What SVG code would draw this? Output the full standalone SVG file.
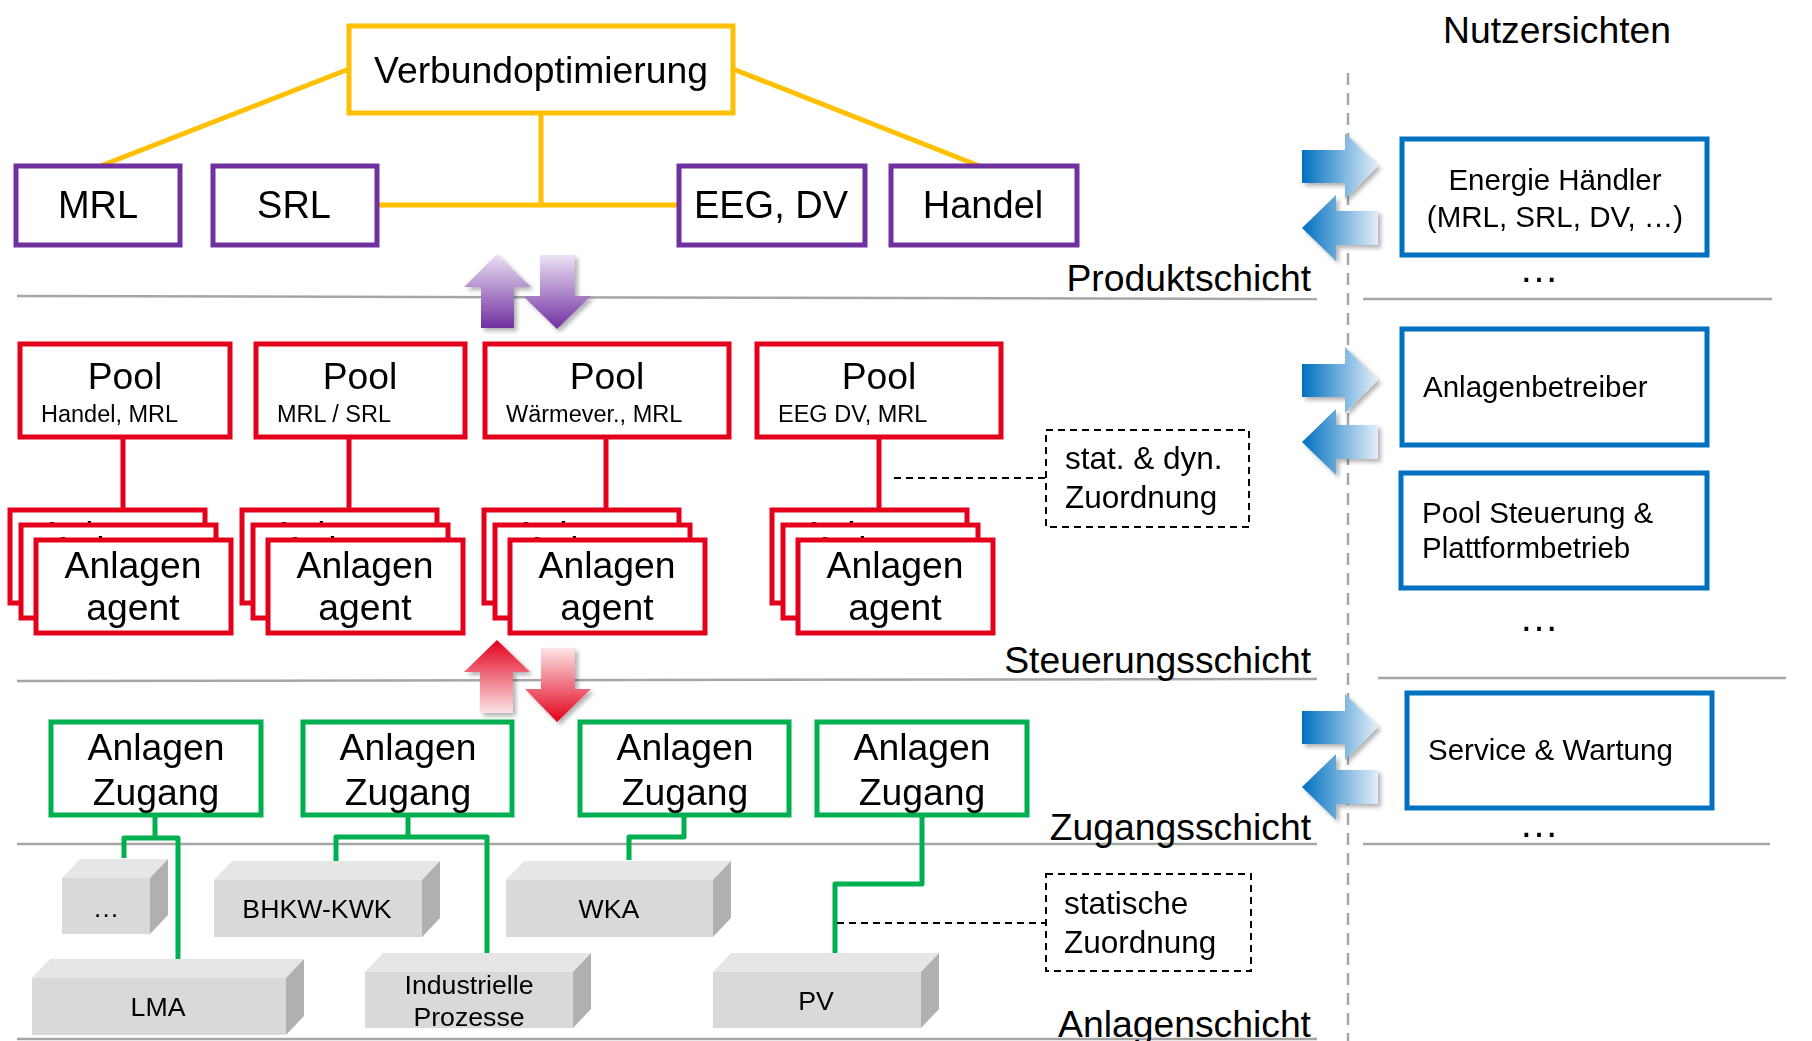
<svg xmlns="http://www.w3.org/2000/svg" width="1812" height="1041" viewBox="0 0 1812 1041">
<style>
text{font-family:"Liberation Sans",Arial,sans-serif;fill:#000}
.yel{fill:#fff;stroke:#FFC000;stroke-width:5}
.pur{fill:#fff;stroke:#7030A0;stroke-width:5}
.red{fill:#fff;stroke:#E3001B;stroke-width:5}
.grn{fill:#fff;stroke:#00B050;stroke-width:5}
.blu{fill:#fff;stroke:#0070C0;stroke-width:5}
.dash{fill:#fff;stroke:#000;stroke-width:2;stroke-dasharray:7 5}
.dl{fill:none;stroke:#000;stroke-width:2;stroke-dasharray:7 5}
.sep{fill:none;stroke:#A6A6A6;stroke-width:2.5}
.yl{fill:none;stroke:#FFC000;stroke-width:5}
.rl{fill:none;stroke:#E3001B;stroke-width:5}
.gl{fill:none;stroke:#00B050;stroke-width:5;stroke-linejoin:round}
.t36{font-size:37.3px;text-anchor:middle}
.t35{font-size:37.3px;text-anchor:middle}
.t38{font-size:38px;text-anchor:middle}
.sub{font-size:23.5px}
.b28{font-size:29.5px}
.d30{font-size:31.5px}
.lay{font-size:37.3px;text-anchor:end}
.blk{font-size:26.7px;text-anchor:middle}
.dots{font-size:40px;text-anchor:middle}
.front{fill:#D9D9D9}
.top{fill:#E6E6E6}
.side{fill:#B0B0B0}
</style>
<defs>
<linearGradient id="gBlue" x1="0" y1="0" x2="1" y2="0"><stop offset="0" stop-color="#0070C0"/><stop offset="1" stop-color="#E2EEF9"/></linearGradient>
<linearGradient id="gPur" x1="0" y1="0" x2="0" y2="1"><stop offset="0" stop-color="#ECE2F5"/><stop offset="1" stop-color="#7030A0"/></linearGradient>
<linearGradient id="gRedUp" x1="0" y1="0" x2="0" y2="1"><stop offset="0" stop-color="#E3001B"/><stop offset="1" stop-color="#FCE4E7"/></linearGradient>
<linearGradient id="gRedDn" x1="0" y1="0" x2="0" y2="1"><stop offset="0" stop-color="#FCE4E7"/><stop offset="1" stop-color="#E3001B"/></linearGradient>
<filter id="sh" x="-20%" y="-20%" width="150%" height="150%"><feDropShadow dx="3" dy="3" stdDeviation="2" flood-color="#000" flood-opacity="0.3"/></filter>
<path id="arrR" d="M0,-16 H43 V-33 L76,0 L43,33 V17 H0 Z"/>
<path id="arrL" d="M0,0 L34,-33 V-17 H76 V17 H34 V33 Z"/>
</defs>

<g id="separators">
<line class="sep" x1="17" y1="296" x2="1317" y2="299"/>
<line class="sep" x1="1363" y1="299" x2="1772" y2="299"/>
<line class="sep" x1="17" y1="681" x2="1317" y2="679"/>
<line class="sep" x1="1378" y1="678" x2="1786" y2="678"/>
<line class="sep" x1="17" y1="844" x2="1317" y2="844"/>
<line class="sep" x1="1363" y1="844" x2="1770" y2="844"/>
<line class="sep" x1="17" y1="1039" x2="1317" y2="1039"/>
<line x1="1348" y1="73" x2="1348" y2="1041" stroke="#A6A6A6" stroke-width="2.5" stroke-dasharray="12 8"/>
</g>

<g id="layer-labels">
<text class="lay" x="1311" y="291">Produktschicht</text>
<text class="lay" x="1311" y="673">Steuerungsschicht</text>
<text class="lay" x="1311" y="840">Zugangsschicht</text>
<text class="lay" x="1311" y="1037">Anlagenschicht</text>
<text class="t36" x="1557" y="43">Nutzersichten</text>
</g>

<g id="connectors">
<polyline class="yl" points="349,69 98,167"/>
<polyline class="yl" points="733,69 982,167"/>
<line class="yl" x1="541" y1="113" x2="541" y2="205"/>
<line class="yl" x1="377" y1="205" x2="678" y2="205"/>
<line class="rl" x1="123" y1="437" x2="123" y2="510"/>
<line class="rl" x1="349" y1="437" x2="349" y2="510"/>
<line class="rl" x1="606" y1="437" x2="606" y2="510"/>
<line class="rl" x1="879" y1="437" x2="879" y2="510"/>
<polyline class="gl" points="155,815 155,838"/>
<polyline class="gl" points="124,858 124,838 178,838 178,959"/>
<polyline class="gl" points="408,815 408,837"/>
<polyline class="gl" points="336,861 336,837 487,837 487,953"/>
<polyline class="gl" points="684,815 684,837 629,837 629,860"/>
<polyline class="gl" points="922,815 922,884 835,884 835,953"/>
<line class="dl" x1="894" y1="478" x2="1045" y2="478"/>
<line class="dl" x1="837" y1="923" x2="1046" y2="923"/>
</g>

<g id="flow-arrows" filter="url(#sh)">
<path fill="url(#gPur)" d="M497,254 L531,287 H514 V328 H481 V287 H464 Z"/>
<path fill="url(#gPur)" d="M540,255 H575 V296 H591 L557,329 L523,296 H540 Z"/>
<path fill="url(#gRedUp)" d="M497,640 L530,672 H513 V713 H480 V672 H464 Z"/>
<path fill="url(#gRedDn)" d="M541,648 H575 V689 H591 L557,722 L525,689 H541 Z"/>
<use href="#arrR" fill="url(#gBlue)" transform="translate(1302,166)"/>
<use href="#arrL" fill="url(#gBlue)" transform="translate(1302,228)"/>
<use href="#arrR" fill="url(#gBlue)" transform="translate(1302,380)"/>
<use href="#arrL" fill="url(#gBlue)" transform="translate(1302,442)"/>
<use href="#arrR" fill="url(#gBlue)" transform="translate(1302,727)"/>
<use href="#arrL" fill="url(#gBlue)" transform="translate(1302,787)"/>
</g>

<g id="verbundoptimierung"><rect class="yel" x="349" y="26" width="384" height="87"/><text class="t36" x="541" y="83">Verbundoptimierung</text></g>
<g id="mrl"><rect class="pur" x="16" y="166" width="164" height="79"/><text class="t38" x="98" y="218">MRL</text></g>
<g id="srl"><rect class="pur" x="213" y="166" width="164" height="79"/><text class="t38" x="294" y="218">SRL</text></g>
<g id="eeg-dv"><rect class="pur" x="679" y="166" width="186" height="79"/><text class="t38" x="771" y="218">EEG, DV</text></g>
<g id="handel"><rect class="pur" x="891" y="166" width="186" height="79"/><text class="t38" x="983" y="218">Handel</text></g>

<g id="pool1"><rect class="red" x="20" y="344" width="210" height="93"/><text class="t35" x="125" y="389">Pool</text><text class="sub" x="41" y="422">Handel, MRL</text></g>
<g id="pool2"><rect class="red" x="256" y="344" width="209" height="93"/><text class="t35" x="360" y="389">Pool</text><text class="sub" x="277" y="422">MRL / SRL</text></g>
<g id="pool3"><rect class="red" x="485" y="344" width="244" height="93"/><text class="t35" x="607" y="389">Pool</text><text class="sub" x="506" y="422">Wärmever., MRL</text></g>
<g id="pool4"><rect class="red" x="757" y="344" width="244" height="93"/><text class="t35" x="879" y="389">Pool</text><text class="sub" x="778" y="422">EEG DV, MRL</text></g>

<g id="agents1">
<rect class="red" x="10" y="510" width="195" height="93"/><text class="t36" x="108" y="548">Anlagen</text>
<rect class="red" x="21" y="525" width="195" height="93"/><text class="t36" x="119" y="563">Anlagen</text>
<rect class="red" x="36" y="540" width="195" height="93"/><text class="t36" x="133" y="578">Anlagen</text><text class="t36" x="133" y="620">agent</text>
</g>
<g id="agents2">
<rect class="red" x="242" y="510" width="195" height="93"/><text class="t36" x="340" y="548">Anlagen</text>
<rect class="red" x="253" y="525" width="195" height="93"/><text class="t36" x="351" y="563">Anlagen</text>
<rect class="red" x="268" y="540" width="195" height="93"/><text class="t36" x="365" y="578">Anlagen</text><text class="t36" x="365" y="620">agent</text>
</g>
<g id="agents3">
<rect class="red" x="484" y="510" width="195" height="93"/><text class="t36" x="582" y="548">Anlagen</text>
<rect class="red" x="495" y="525" width="195" height="93"/><text class="t36" x="593" y="563">Anlagen</text>
<rect class="red" x="510" y="540" width="195" height="93"/><text class="t36" x="607" y="578">Anlagen</text><text class="t36" x="607" y="620">agent</text>
</g>
<g id="agents4">
<rect class="red" x="772" y="510" width="195" height="93"/><text class="t36" x="870" y="548">Anlagen</text>
<rect class="red" x="783" y="525" width="195" height="93"/><text class="t36" x="881" y="563">Anlagen</text>
<rect class="red" x="798" y="540" width="195" height="93"/><text class="t36" x="895" y="578">Anlagen</text><text class="t36" x="895" y="620">agent</text>
</g>

<g id="zuordnung-dyn"><rect class="dash" x="1046" y="430" width="203" height="97"/><text class="d30" x="1065" y="469">stat. &amp; dyn.</text><text class="d30" x="1065" y="508">Zuordnung</text></g>

<g id="zugang1"><rect class="grn" x="51" y="722" width="210" height="93"/><text class="t36" x="156" y="760">Anlagen</text><text class="t36" x="156" y="805">Zugang</text></g>
<g id="zugang2"><rect class="grn" x="303" y="722" width="209" height="93"/><text class="t36" x="408" y="760">Anlagen</text><text class="t36" x="408" y="805">Zugang</text></g>
<g id="zugang3"><rect class="grn" x="580" y="722" width="209" height="93"/><text class="t36" x="685" y="760">Anlagen</text><text class="t36" x="685" y="805">Zugang</text></g>
<g id="zugang4"><rect class="grn" x="817" y="722" width="210" height="93"/><text class="t36" x="922" y="760">Anlagen</text><text class="t36" x="922" y="805">Zugang</text></g>

<g id="zuordnung-stat"><rect class="dash" x="1046" y="874" width="205" height="97"/><text class="d30" x="1064" y="914">statische</text><text class="d30" x="1064" y="953">Zuordnung</text></g>

<g id="block-etc">
<polygon class="top" points="62,878 80,859 168,859 150,878"/><polygon class="side" points="150,878 168,859 168,915 150,934"/><rect class="front" x="62" y="878" width="88" height="56"/>
<text class="blk" x="106" y="917">…</text></g>
<g id="block-bhkw">
<polygon class="top" points="214,880 232,861 440,861 422,880"/><polygon class="side" points="422,880 440,861 440,918 422,937"/><rect class="front" x="214" y="880" width="208" height="57"/>
<text class="blk" x="317" y="918">BHKW-KWK</text></g>
<g id="block-wka">
<polygon class="top" points="506,880 524,861 731,861 713,880"/><polygon class="side" points="713,880 731,861 731,918 713,937"/><rect class="front" x="506" y="880" width="207" height="57"/>
<text class="blk" x="609" y="918">WKA</text></g>
<g id="block-lma">
<polygon class="top" points="32,978 50,959 304,959 286,978"/><polygon class="side" points="286,978 304,959 304,1016 286,1035"/><rect class="front" x="32" y="978" width="254" height="57"/>
<text class="blk" x="158" y="1016">LMA</text></g>
<g id="block-ind">
<polygon class="top" points="365,972 383,953 591,953 573,972"/><polygon class="side" points="573,972 591,953 591,1009 573,1028"/><rect class="front" x="365" y="972" width="208" height="56"/>
<text class="blk" x="469" y="994">Industrielle</text><text class="blk" x="469" y="1026">Prozesse</text></g>
<g id="block-pv">
<polygon class="top" points="713,972 731,953 939,953 921,972"/><polygon class="side" points="921,972 939,953 939,1009 921,1028"/><rect class="front" x="713" y="972" width="208" height="56"/>
<text class="blk" x="816" y="1010">PV</text></g>

<g id="energie-haendler"><rect class="blu" x="1402" y="139" width="305" height="116"/><text class="b28" x="1555" y="190" text-anchor="middle">Energie Händler</text><text class="b28" x="1555" y="227" text-anchor="middle">(MRL, SRL, DV, …)</text></g>
<text class="dots" x="1539" y="282">…</text>
<g id="anlagenbetreiber"><rect class="blu" x="1402" y="329" width="305" height="116"/><text class="b28" x="1423" y="397">Anlagenbetreiber</text></g>
<g id="pool-steuerung"><rect class="blu" x="1401" y="473" width="306" height="115"/><text class="b28" x="1422" y="523">Pool Steuerung &amp;</text><text class="b28" x="1422" y="558">Plattformbetrieb</text></g>
<text class="dots" x="1539" y="631">…</text>
<g id="service-wartung"><rect class="blu" x="1407" y="693" width="305" height="115"/><text class="b28" x="1428" y="760">Service &amp; Wartung</text></g>
<text class="dots" x="1539" y="837">…</text>
</svg>
